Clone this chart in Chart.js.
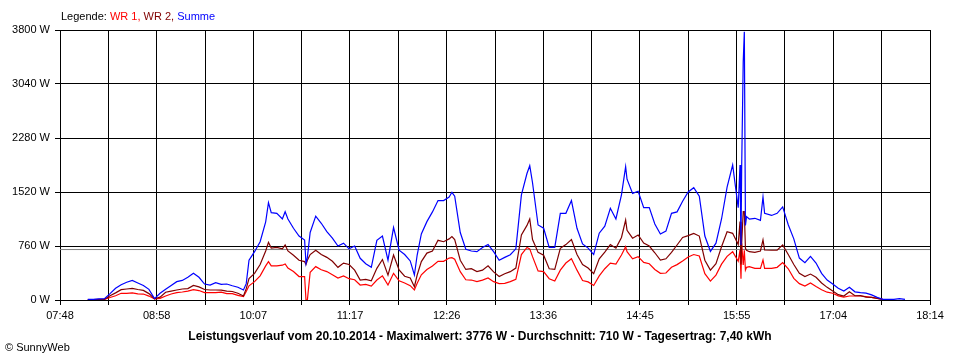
<!DOCTYPE html>
<html>
<head>
<meta charset="utf-8">
<script src="https://cdn.jsdelivr.net/npm/chart.js@4.4.1/dist/chart.umd.min.js"></script>
<style>
  html, body { margin: 0; padding: 0; background: #fff; }
  #wrap { position: relative; width: 960px; height: 360px; font-family: "Liberation Sans", Arial, sans-serif; color: #000; }
  #chart { position: absolute; left: 0; top: 0; }
  .txt { position: absolute; line-height: 1; white-space: nowrap; }
  #legend { left: 61px; top: 11px; font-size: 11px; }
  #footer { left: 0; width: 960px; top: 330px; text-align: center; font-size: 12px; font-weight: bold; }
  #copy { left: 5px; top: 342px; font-size: 11px; }
</style>
</head>
<body>
<div id="wrap">
  <canvas id="chart" width="960" height="360"></canvas>
  <div class="txt" id="legend">Legende: <span style="color:#ff0000">WR 1,</span> <span style="color:#800000">WR 2,</span> <span style="color:#0000ff">Summe</span></div>
  <div class="txt" id="footer">Leistungsverlauf vom 20.10.2014 - Maximalwert: 3776 W - Durchschnitt: 710 W - Tagesertrag: 7,40 kWh</div>
  <div class="txt" id="copy">© SunnyWeb</div>
</div>
<script>
// messzeitpunkte (hh:mm oder hh:mm:ss)
const times = [
  '08:08','08:12','08:16','08:20','08:24','08:28','08:32','08:36','08:40','08:44',
  '08:48','08:52','08:56','09:00','09:04','09:08','09:12','09:16','09:20','09:24',
  '09:28','09:32','09:36','09:40','09:44','09:48','09:52','09:56','10:00','10:02',
  '10:04','10:08','10:12','10:16','10:18','10:20','10:24','10:28','10:30','10:32',
  '10:36','10:40','10:44','10:45','10:46','10:48','10:52','10:56','11:00','11:04',
  '11:08','11:12','11:16','11:20','11:24','11:28','11:32','11:36','11:40','11:44',
  '11:48','11:52','11:56','12:00','12:03','12:05','12:08','12:12','12:16','12:20',
  '12:24','12:28','12:30','12:32','12:36','12:40','12:44','12:48','12:52','12:56',
  '13:00','13:04','13:08','13:12','13:16','13:20','13:24','13:26','13:28','13:32',
  '13:36','13:40','13:44','13:48','13:52','13:56','14:00','14:04','14:08','14:12',
  '14:16','14:20','14:24','14:28','14:32','14:35','14:36','14:40','14:44','14:48',
  '14:52','14:56','15:00','15:04','15:08','15:12','15:16','15:20','15:24','15:28',
  '15:32','15:36','15:40','15:44','15:48','15:52','15:56','15:57:18','15:58','15:58:30',
  '15:59:36','16:00:24','16:01:12','16:02','16:04','16:08','16:12','16:13:50','16:15','16:20',
  '16:24','16:28','16:32','16:36','16:40','16:44','16:48','16:52','16:56','17:00',
  '17:04','17:08','17:12','17:16','17:20','17:24','17:28','17:32','17:36','17:40',
  '17:44','17:48','17:52','17:56'
];

const summe = [
  10,10,15,20,90,164,215,250,275,240,
  205,150,20,94,150,205,258,275,320,375,
  320,225,211,244,220,225,200,180,141,230,
  560,680,820,1100,1370,1230,1220,1140,1243,1140,
  1010,900,845,516,600,950,1180,1080,962,870,
  760,800,720,760,587,510,460,840,900,560,
  1020,700,640,550,352,633,930,1103,1240,1400,
  1400,1450,1516,1460,950,715,690,680,740,780,
  680,560,600,638,720,1480,1780,1890,1650,1056,
  1010,740,740,1220,1220,1400,1009,790,730,640,
  940,1040,1290,1140,1480,1877,1700,1500,1530,1300,
  1300,1070,930,970,1220,1240,1390,1520,1580,1460,
  900,685,800,1140,1590,1900,1300,1900,774,1880,
  3354,3776,1050,1173,1140,1150,1120,1450,1220,1190,
  1220,1310,1060,860,590,526,615,520,375,281,
  225,165,127,178,115,103,97,72,37,8,
  9,10,18,9
];

const wr2 = [
  5,5,8,10,60,100,145,155,164,148,
  135,90,18,40,110,125,141,155,160,205,
  185,148,141,141,140,125,120,95,56,160,
  300,375,500,690,812,730,740,720,774,690,
  630,560,540,500,560,640,700,640,600,545,
  460,520,500,420,281,290,270,446,570,350,
  633,422,335,310,188,352,540,660,690,840,
  820,860,892,850,560,430,440,399,420,480,
  395,330,370,399,450,915,1050,1140,850,670,
  630,440,430,727,780,850,640,500,450,370,
  580,675,780,730,880,1126,980,870,915,800,
  760,665,563,580,670,774,880,906,938,900,
  560,420,510,750,960,938,780,1103,500,800,
  1243,1243,727,700,680,671,690,845,704,700,
  700,775,640,500,375,330,365,320,240,178,
  125,75,56,117,60,62,40,37,23,8,
  null,null,null,null
];

const wr1 = [
  5,5,7,10,35,60,94,94,100,85,
  84,55,14,23,56,84,103,113,125,145,
  133,105,103,103,110,90,90,65,47,120,
  200,258,340,480,540,480,480,490,507,450,
  400,330,330,0,0,390,470,425,400,355,
  310,340,300,285,211,220,195,281,340,210,
  375,270,240,202,141,235,355,430,480,545,
  545,590,596,575,399,285,281,260,280,310,
  258,230,235,258,290,640,740,720,610,410,
  400,300,267,420,520,580,420,275,255,205,
  340,440,520,505,633,751,680,580,610,530,
  510,430,375,380,460,498,550,605,640,620,
  370,265,350,505,615,680,545,704,300,798,
  493,700,422,460,469,446,446,563,446,446,
  460,526,440,305,230,195,240,190,145,110,
  95,58,40,56,56,56,47,37,23,8,
  null,null,null,null
];

const avgPower = 710;
const yTicks = [0, 760, 1520, 2280, 3040, 3800];
const xTickLabels = ['07:48','08:58','10:07','11:17','12:26','13:36','14:45','15:55','17:04','18:14'];
const xStart = '07:48';
const xEnd = '18:14';
const gridSteps = 18;

const fontFamily = '"Liberation Sans", Arial, sans-serif';

function toMinutes(s){
    const p = s.split(':').map(Number);
    return p[0] * 60 + p[1] + (p[2] || 0) / 60;
}

const xMin = toMinutes(xStart);
const xMax = toMinutes(xEnd);
const xGrid = [];
for(let i = 0; i <= gridSteps; i++){
    xGrid.push(xMin + (xMax - xMin) * i / gridSteps);
}

function series(values){
    return times.map((t, i) => ({x: toMinutes(t), y: values[i]}));
}

function lineSet(label, values, color){
    return {
        label: label,
        data: series(values),
        borderColor: color,
        borderWidth: 1.2,
        pointRadius: 0,
        fill: false,
        tension: 0,
        spanGaps: false
    };
}

const ctx = document.getElementById('chart').getContext('2d');

new Chart(ctx, {
    type: 'line',
    data: {
        datasets: [
            lineSet('Summe', summe, '#0000ff'),
            lineSet('WR 2', wr2, '#800000'),
            lineSet('WR 1', wr1, '#ff0000'),
            {
                label: 'Durchschnitt',
                data: [{x: xMin, y: avgPower}, {x: xMax, y: avgPower}],
                borderColor: '#808080',
                borderWidth: 1,
                pointRadius: 0,
                fill: false
            }
        ]
    },
    options: {
        responsive: false,
        animation: false,
        devicePixelRatio: 1,
        layout: { padding: { top: 30, right: 30, left: 0, bottom: 0 } },
        plugins: {
            legend: { display: false },
            tooltip: { enabled: false }
        },
        scales: {
            x: {
                type: 'linear',
                min: xMin,
                max: xMax,
                afterBuildTicks: axis => { axis.ticks = xGrid.map(v => ({value: v})); },
                afterFit: axis => { axis.height = 60; },
                ticks: {
                    autoSkip: false,
                    maxRotation: 0,
                    padding: 4,
                    color: '#000',
                    font: { family: fontFamily, size: 11 },
                    callback: (v, i) => i % 2 ? '' : xTickLabels[i / 2]
                },
                grid: { color: '#000', lineWidth: 1, tickLength: 5 },
                border: { color: '#000' }
            },
            y: {
                min: yTicks[0],
                max: yTicks[yTicks.length - 1],
                afterBuildTicks: axis => { axis.ticks = yTicks.map(v => ({value: v})); },
                afterFit: axis => { axis.width = 60; },
                ticks: {
                    padding: 5,
                    color: '#000',
                    font: { family: fontFamily, size: 11 },
                    callback: v => v + ' W'
                },
                grid: { color: '#000', lineWidth: 1, tickLength: 5 },
                border: { color: '#000' }
            }
        }
    }
});
</script>
</body>
</html>
